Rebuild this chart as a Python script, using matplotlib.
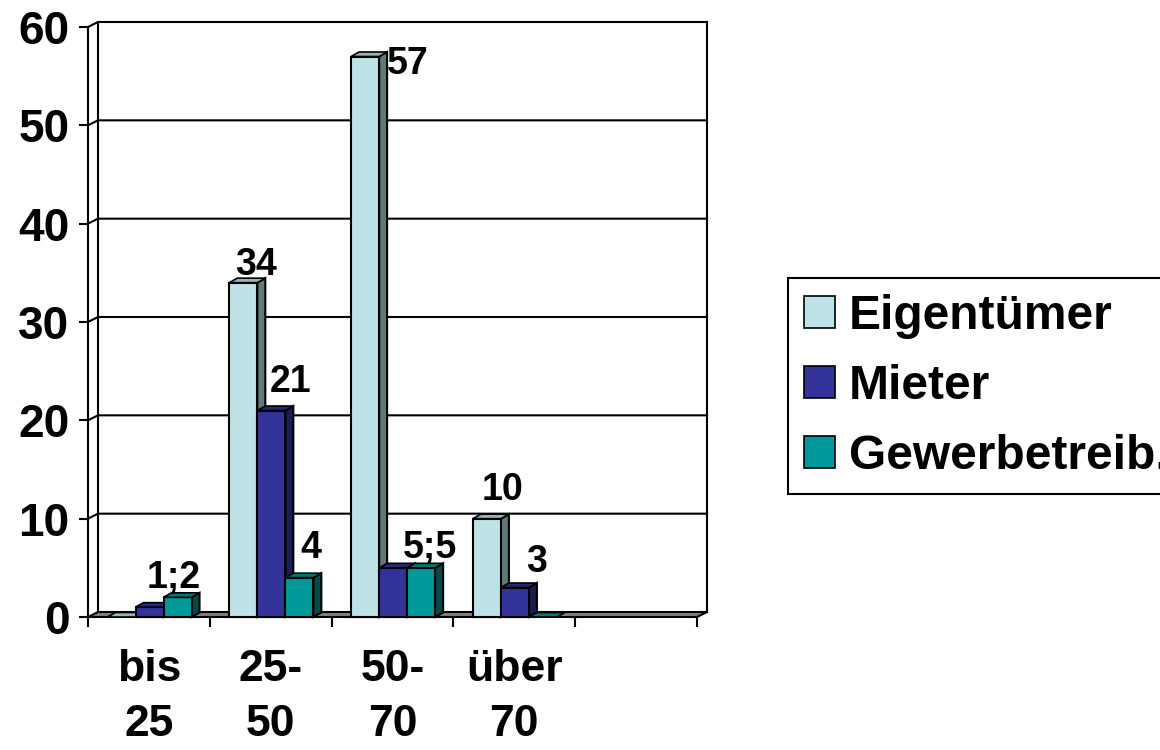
import matplotlib
matplotlib.use('Agg')
import matplotlib.pyplot as plt
from matplotlib.patches import Polygon, Patch
import numpy as np

# ---------------- data ----------------
categories = ['bis\n25', '25-\n50', '50-\n70', 'über\n70', '']
series_names = ['Eigentümer', 'Mieter', 'Gewerbetreib.']
eigentuemer = [0, 34, 57, 10, np.nan]
mieter = [1, 21, 5, 3, np.nan]
gewerbe = [2, 4, 5, 0, np.nan]
y_ticks = [0, 10, 20, 30, 40, 50, 60]

# data labels: (category index, series index, text)
data_labels = [(0, 2, '1;2'), (1, 0, '34'), (1, 1, '21'), (1, 2, '4'),
               (2, 0, '57'), (2, 2, '5;5'), (3, 0, '10'), (3, 1, '3')]
# label offsets in pixels from the top-centre of the bar (style only)
label_offsets = [(-4, 19), (13, 18), (19, 28), (12, 30),
                 (43, -8), (9, 20), (16, 29), (22, 25)]

# ---------------- style ----------------
front_col = ['#BDE3E6', '#333399', '#009999']
top_col = ['#98B4B6', '#28287A', '#007777']
side_col = ['#5F7A7B', '#1C1C55', '#004A4A']
FONT = 'Liberation Sans'
plt.rcParams['font.family'] = [FONT, 'DejaVu Sans']
plt.rcParams['font.weight'] = 'bold'

W, H = 1160, 750
fig = plt.figure(figsize=(W / 100, H / 100), dpi=100)
fig.patch.set_facecolor('white')

x_left, x_right, y_bot, y_top = 88, 697, 617, 27
ax = fig.add_axes([x_left / W, (H - y_bot) / H, (x_right - x_left) / W, (y_bot - y_top) / H])
ncat = len(categories)
ax.set_xlim(0, ncat)
ax.set_ylim(0, 60)
for s in ax.spines.values():
    s.set_visible(False)
ax.patch.set_visible(False)

px_x = (x_right - x_left) / ncat        # pixels per category
px_y = (y_bot - y_top) / 60.0           # pixels per unit
ddx, ddy = 10 / px_x, 5 / px_y          # wall depth
bdx, bdy = 8 / px_x, 4.5 / px_y         # bar depth
LW = 1.5

# back wall gridlines + left wall diagonals
for v in y_ticks[1:]:
    ax.plot([0, ddx, ncat + ddx], [v, v + ddy, v + ddy], color='black', lw=LW,
            clip_on=False, zorder=1, solid_joinstyle='miter')
ax.plot([ddx, ddx], [ddy, 60 + ddy], color='black', lw=LW, clip_on=False, zorder=1)
ax.plot([ncat + ddx, ncat + ddx], [ddy, 60 + ddy], color='black', lw=LW, clip_on=False, zorder=1)
ax.plot([0, 0], [0, 60], color='black', lw=LW, clip_on=False, zorder=1)

# floor
ax.add_patch(Polygon([(0, 0), (ncat, 0), (ncat + ddx, ddy), (ddx, ddy)], closed=True,
                     facecolor='#808080', edgecolor='black', lw=LW, clip_on=False, zorder=2))

# bars
series = [eigentuemer, mieter, gewerbe]
bw = 0.23
start = 0.16
z = 3
bar_pos = {}
for gi in range(ncat):
    for si, vals in enumerate(series):
        h = vals[gi]
        x0 = gi + start + si * bw
        bar_pos[(gi, si)] = (x0 + bw / 2, h)
        if h is None or np.isnan(h):
            continue
        x1 = x0 + bw
        if h > 0:
            ax.add_patch(Polygon([(x1, 0), (x1 + bdx, bdy), (x1 + bdx, h + bdy), (x1, h)], closed=True,
                                 facecolor=side_col[si], edgecolor='black', lw=LW, clip_on=False, zorder=z))
            ax.add_patch(Polygon([(x0, 0), (x1, 0), (x1, h), (x0, h)], closed=True,
                                 facecolor=front_col[si], edgecolor='black', lw=LW, clip_on=False, zorder=z + 0.1))
        ax.add_patch(Polygon([(x0, h), (x0 + bdx, h + bdy), (x1 + bdx, h + bdy), (x1, h)], closed=True,
                             facecolor=top_col[si], edgecolor='black', lw=LW * 0.8, clip_on=False, zorder=z + 0.2))
        z += 1

# data labels
for (gi, si, txt), (ox, oy) in zip(data_labels, label_offsets):
    xc, h = bar_pos[(gi, si)]
    ax.annotate(txt, xy=(xc, h), xytext=(ox, oy), textcoords='offset pixels',
                ha='center', va='center', fontsize=27, fontweight='bold', zorder=100,
                annotation_clip=False)

# axes ticks
ax.set_yticks(y_ticks)
ax.set_yticklabels([str(v) for v in y_ticks], fontsize=33, fontweight='bold')
ax.tick_params(axis='y', direction='out', length=6.5, width=LW, pad=7)
ax.set_xticks(np.arange(ncat + 1))
ax.set_xticklabels([])
ax.tick_params(axis='x', which='major', direction='out', length=7, width=LW)
ax.set_xticks(np.arange(ncat) + 0.5, minor=True)
ax.set_xticklabels(categories, minor=True, fontsize=32, fontweight='bold', linespacing=1.45)
ax.tick_params(axis='x', which='minor', length=0, pad=23)

# legend
handles = [Patch(facecolor=c, edgecolor='black', lw=1.2) for c in front_col]
leg = fig.legend(handles, series_names, loc='upper left',
                 bbox_to_anchor=(788 / W, 1 - 278 / H), prop={'family': FONT, 'weight': 'bold', 'size': 34.5},
                 frameon=True, fancybox=False, edgecolor='black', framealpha=1,
                 handlelength=0.66, handleheight=0.66, handletextpad=0.28,
                 labelspacing=0.52, borderpad=0.33, borderaxespad=0)
leg.get_frame().set_linewidth(LW)

fig.savefig('out.png', dpi=100, facecolor='white')
